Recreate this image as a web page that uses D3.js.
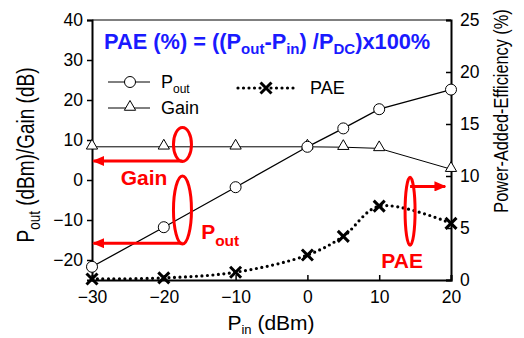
<!DOCTYPE html>
<head>
  <meta charset="utf-8">
  <script src="https://d3js.org/d3.v7.min.js"></script>
  <style>
    body { margin: 0; background: #fff; }
    text { font-family: "Liberation Sans", Arial, sans-serif; }
    .tick text { font-size: 17.5px; fill: #000; }
    .note { fill: #f00; font-weight: 700; font-size: 21px; }
  </style>
</head>
<body>
<script>
  // Pin (dBm)
  const pin = [-30, -20, -10, 0, 5, 10, 20];
  const pout = [-21.7, -11.8, -1.8, 8.3, 12.9, 17.7, 22.6];
  const gain = [8.3, 8.3, 8.3, 8.3, 8.2, 7.9, 2.7];
  const pae = [0.1, 0.2, 0.75, 2.4, 4.2, 7.1, 5.45];

  const xTicks = [-30, -20, -10, 0, 10, 20];
  const yLeftTicks = [-20, -10, 0, 10, 20, 30, 40];
  const yRightTicks = [0, 5, 10, 15, 20, 25];

  const width = 524, height = 338;
  const margin = { top: 20, right: 73, bottom: 58, left: 92 };

  const svg = d3.select("body").append("svg")
    .attr("width", width)
    .attr("height", height);

  const x = d3.scaleLinear().domain([-30, 20]).range([margin.left, width - margin.right]);
  const yL = d3.scaleLinear().domain([-25, 40]).range([height - margin.bottom, margin.top]);
  const yR = d3.scaleLinear().domain([0, 25]).range([height - margin.bottom, margin.top]);

  // frame top
  svg.append("line")
    .attr("x1", x(-30)).attr("x2", x(20))
    .attr("y1", yL(40)).attr("y2", yL(40))
    .attr("stroke", "#000").attr("stroke-width", 1);

  const xAxis = d3.axisBottom(x).tickValues(xTicks).tickSize(-5).tickPadding(11);
  svg.append("g")
    .attr("transform", `translate(0,${yL(-25)})`)
    .call(xAxis)
    .call(g => g.select(".domain").attr("stroke-width", 2))
    .call(g => g.selectAll(".tick line").attr("stroke-width", 1.5));

  const yAxisL = d3.axisLeft(yL).tickValues(yLeftTicks).tickSize(5).tickPadding(4);
  svg.append("g")
    .attr("transform", `translate(${x(-30)},0)`)
    .call(yAxisL)
    .call(g => g.select(".domain").attr("stroke-width", 2))
    .call(g => g.selectAll(".tick line").attr("stroke-width", 1.5));

  const yAxisR = d3.axisRight(yR).tickValues(yRightTicks).tickSize(-5).tickPadding(9);
  svg.append("g")
    .attr("transform", `translate(${x(20)},0)`)
    .call(yAxisR)
    .call(g => g.select(".domain").attr("stroke-width", 2))
    .call(g => g.selectAll(".tick line").attr("stroke-width", 1.5));

  // axis titles (the source figure is a bit stretched sideways)
  const lt = svg.append("text")
    .attr("transform", "translate(34,155) scale(1.25,1) rotate(-90)")
    .attr("text-anchor", "middle").attr("font-size", 19);
  lt.append("tspan").text("P");
  lt.append("tspan").attr("font-size", 13.5).attr("dy", 5).text("out");
  lt.append("tspan").attr("dy", -5).text(" (dBm)/Gain (dB)");

  svg.append("text")
    .attr("transform", "translate(508,111) scale(1.25,1) rotate(-90)")
    .attr("text-anchor", "middle").attr("font-size", 16.3)
    .text("Power-Added-Efficiency (%)");

  const bt = svg.append("text").attr("font-size", 21)
    .attr("x", 271).attr("y", 330).attr("text-anchor", "middle");
  bt.append("tspan").text("P");
  bt.append("tspan").attr("font-size", 13).attr("dy", 4).text("in");
  bt.append("tspan").attr("dy", -4).text(" (dBm)");

  // title formula
  const tt = svg.append("text")
    .attr("x", 104).attr("y", 49)
    .attr("fill", "#1a1aff").attr("font-weight", 700).attr("font-size", 21.8);
  tt.append("tspan").text("PAE (%) = ((P");
  tt.append("tspan").attr("font-size", 15).attr("dy", 5).text("out");
  tt.append("tspan").attr("dy", -5).text("-P");
  tt.append("tspan").attr("font-size", 15).attr("dy", 5).text("in");
  tt.append("tspan").attr("dy", -5).text(") /P");
  tt.append("tspan").attr("font-size", 15).attr("dy", 5).text("DC");
  tt.append("tspan").attr("dy", -5).text(")x100%");

  const rows = pin.map((p, i) => ({ p, pout: pout[i], gain: gain[i], pae: pae[i] }));

  // Gain line
  svg.append("path")
    .attr("d", d3.line().x(d => x(d.p)).y(d => yL(d.gain))(rows))
    .attr("fill", "none").attr("stroke", "#000").attr("stroke-width", 1);
  // Pout line
  svg.append("path")
    .attr("d", d3.line().x(d => x(d.p)).y(d => yL(d.pout))(rows))
    .attr("fill", "none").attr("stroke", "#000").attr("stroke-width", 1.3);
  // PAE dotted curve
  svg.append("path")
    .attr("d", d3.line().curve(d3.curveCatmullRom.alpha(0.5)).x(d => x(d.p)).y(d => yR(d.pae))(rows))
    .attr("fill", "none").attr("stroke", "#000").attr("stroke-width", 3.2)
    .attr("stroke-linecap", "round").attr("stroke-dasharray", "0 5.5");

  const triPath = d3.symbol().type(d3.symbolTriangle).size(55)();

  svg.selectAll("path.gainPt").data(rows).join("path")
    .attr("class", "gainPt")
    .attr("d", triPath)
    .attr("transform", d => `translate(${x(d.p)},${yL(d.gain) - 1})`)
    .attr("fill", "#fff").attr("stroke", "#000").attr("stroke-width", 1);

  svg.selectAll("circle.poutPt").data(rows).join("circle")
    .attr("class", "poutPt")
    .attr("cx", d => x(d.p)).attr("cy", d => yL(d.pout)).attr("r", 5.5)
    .attr("fill", "#fff").attr("stroke", "#000").attr("stroke-width", 1);

  function cross(sel, s) {
    sel.append("path")
      .attr("d", `M${-s},${-s}L${s},${s}M${-s},${s}L${s},${-s}`)
      .attr("stroke", "#000").attr("stroke-width", 3).attr("fill", "none");
  }
  svg.selectAll("g.paePt").data(rows).join("g")
    .attr("class", "paePt")
    .attr("transform", d => `translate(${x(d.p)},${yR(d.pae)})`)
    .call(cross, 5.5);

  // legend
  const lg = svg.append("g");
  lg.append("line").attr("x1", 108).attr("x2", 150).attr("y1", 82).attr("y2", 82).attr("stroke", "#000");
  lg.append("circle").attr("cx", 130).attr("cy", 82).attr("r", 5.5).attr("fill", "#fff").attr("stroke", "#000");
  const lp = lg.append("text").attr("x", 161).attr("y", 88).attr("font-size", 18);
  lp.append("tspan").text("P");
  lp.append("tspan").attr("font-size", 12).attr("dy", 5).text("out");

  lg.append("line").attr("x1", 108).attr("x2", 150).attr("y1", 108).attr("y2", 108).attr("stroke", "#000");
  lg.append("path").attr("d", triPath).attr("transform", "translate(130,107)")
    .attr("fill", "#fff").attr("stroke", "#000");
  lg.append("text").attr("x", 161).attr("y", 114).attr("font-size", 18).text("Gain");

  lg.append("line").attr("x1", 238).attr("x2", 294).attr("y1", 88).attr("y2", 88)
    .attr("stroke", "#000").attr("stroke-width", 3.2).attr("stroke-linecap", "round").attr("stroke-dasharray", "0 5.5");
  lg.append("g").attr("transform", "translate(266,88)").call(cross, 5.5);
  lg.append("text").attr("x", 310).attr("y", 94).attr("font-size", 18).text("PAE");

  // red annotations
  const red = "#f00";
  svg.append("defs").append("marker")
    .attr("id", "arr").attr("viewBox", "0 0 10 10").attr("refX", 9).attr("refY", 5)
    .attr("markerWidth", 4).attr("markerHeight", 3.4).attr("orient", "auto")
    .attr("preserveAspectRatio", "none")
    .append("path").attr("d", "M0,0L10,5L0,10z").attr("fill", red);

  function ellipse(cx, cy, rx, ry) {
    svg.append("ellipse").attr("cx", cx).attr("cy", cy).attr("rx", rx).attr("ry", ry)
      .attr("fill", "none").attr("stroke", red).attr("stroke-width", 3);
  }
  function arrow(x1, y1, x2, y2) {
    svg.append("line").attr("x1", x1).attr("y1", y1).attr("x2", x2).attr("y2", y2)
      .attr("stroke", red).attr("stroke-width", 3).attr("marker-end", "url(#arr)");
  }

  // gain
  ellipse(x(-17.4), yL(8.9), 9, 17);
  arrow(x(-17.4), yL(4.75), x(-29.8), yL(4.75));
  svg.append("text").attr("class", "note").attr("x", x(-26)).attr("y", yL(-1.2)).text("Gain");
  // pout
  ellipse(x(-17.4), yL(-7.5), 9, 34);
  arrow(x(-17.4), yL(-15.8), x(-29.8), yL(-15.8));
  const np = svg.append("text").attr("class", "note").attr("x", x(-14.8)).attr("y", yL(-14.8)).attr("font-size", 22);
  np.append("tspan").text("P");
  np.append("tspan").attr("font-size", 15.5).attr("dy", 7).text("out");
  // pae
  ellipse(x(14.3), yR(6.6), 5, 34);
  arrow(x(14.3), yR(9.0), x(19.2), yR(9.0));
  svg.append("text").attr("class", "note").attr("x", x(10.3)).attr("y", yR(1.15)).text("PAE");
</script>
</body>
